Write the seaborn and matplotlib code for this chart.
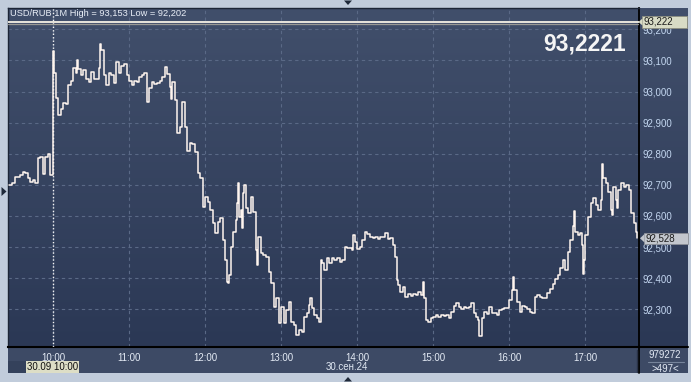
import numpy as np
import pandas as pd
import matplotlib
matplotlib.use("Agg")
import matplotlib.pyplot as plt
import seaborn as sns
from matplotlib.colors import LinearSegmentedColormap
from matplotlib.patches import Rectangle, Polygon

# ---------------- data (minutes relative to 10:00, USD/RUB 1M) ----------------
minutes = [
    -35, -32, -30, -28, -26, -24, -22, -20, -18, -16, -14, -12, -10, -8, -6, -4, -2,
    0, 1, 2, 4, 6, 8, 10, 12, 14, 16, 18, 19, 20, 22, 24, 26, 28, 30, 32, 34, 36, 37, 38,
    40, 42, 44, 46, 48, 50, 52, 54, 56, 58, 60, 62, 64, 66, 68, 70, 72, 74, 76, 78,
    80, 82, 84, 86, 88, 90, 92, 93, 94, 96, 98, 100, 102, 104, 106, 108, 110, 112, 114, 116, 118,
    120, 122, 124, 126, 128, 130, 132, 134, 136, 137, 138, 139, 140, 142, 144, 145, 146, 147, 148, 149,
    150, 151, 152, 154, 156, 158, 160, 161, 162, 164, 166, 168, 170, 172, 174, 176, 178,
    180, 182, 184, 186, 188, 190, 192, 194, 196, 198, 200, 202, 203, 204, 206, 208, 210, 211, 212,
    214, 216, 218, 220, 222, 224, 226, 228, 230, 232, 234, 236, 237, 238,
    240, 242, 244, 246, 248, 250, 252, 254, 256, 258, 260, 262, 264, 266, 268, 270, 271, 272,
    274, 276, 278, 280, 282, 284, 286, 288, 290, 292, 293, 294, 296, 298,
    300, 302, 304, 306, 308, 310, 312, 314, 316, 318, 320, 322, 324, 326, 328, 330, 332, 334, 335, 336, 338,
    340, 342, 344, 346, 348, 350, 352, 354, 356, 358, 360, 362, 363, 364, 366, 368, 370, 372, 374, 376, 378,
    380, 382, 384, 386, 388, 390, 392, 394, 396, 398, 400, 402, 404, 406, 408, 410, 411, 412, 414, 416, 417, 418, 419,
    420, 422, 424, 426, 428, 430, 432, 433, 434, 436, 438, 440, 441, 442, 444, 445, 446, 448, 450, 452, 454, 456, 458,
    460, 461,
]
prices = [
    92.700, 92.705, 92.726, 92.726, 92.732, 92.742, 92.737, 92.721, 92.710, 92.716, 92.705, 92.785, 92.790, 92.735, 92.790, 92.800, 92.730,
    93.130, 93.060, 92.978, 92.925, 92.943, 92.962, 92.960, 93.021, 93.034, 93.075, 93.059, 93.101, 93.071, 93.053, 93.069, 93.039, 93.029, 93.064, 93.039, 93.039, 93.075, 93.153, 93.134,
    93.053, 93.021, 93.059, 93.053, 93.026, 93.096, 93.061, 93.082, 93.089, 93.053, 93.035, 93.021, 93.035, 93.032, 93.046, 93.053, 93.059, 92.967, 93.010, 93.032,
    93.024, 93.026, 93.035, 93.046, 93.078, 93.056, 93.016, 92.975, 93.032, 92.973, 92.866, 92.887, 92.967, 92.887, 92.810, 92.833, 92.831, 92.807, 92.737, 92.721, 92.630,
    92.662, 92.646, 92.620, 92.576, 92.544, 92.582, 92.592, 92.523, 92.458, 92.389, 92.383, 92.410, 92.501, 92.549, 92.587, 92.641, 92.705, 92.598, 92.619, 92.560,
    92.673, 92.700, 92.624, 92.608, 92.662, 92.614, 92.490, 92.442, 92.533, 92.480, 92.474, 92.469, 92.421, 92.383, 92.308, 92.335, 92.255,
    92.308, 92.255, 92.298, 92.324, 92.260, 92.249, 92.217, 92.233, 92.228, 92.276, 92.287, 92.314, 92.335, 92.303, 92.281, 92.271, 92.260, 92.458, 92.448,
    92.426, 92.464, 92.448, 92.464, 92.458, 92.464, 92.453, 92.458, 92.501, 92.496, 92.498, 92.490, 92.539, 92.517,
    92.493, 92.501, 92.523, 92.549, 92.542, 92.531, 92.528, 92.531, 92.525, 92.531, 92.531, 92.544, 92.525, 92.528, 92.507, 92.469, 92.394, 92.378,
    92.356, 92.373, 92.340, 92.349, 92.343, 92.349, 92.346, 92.356, 92.346, 92.389, 92.335, 92.265, 92.260, 92.271,
    92.276, 92.281, 92.276, 92.281, 92.279, 92.281, 92.271, 92.292, 92.310, 92.319, 92.306, 92.300, 92.308, 92.303, 92.308, 92.319, 92.287, 92.276, 92.265, 92.214, 92.271,
    92.292, 92.285, 92.308, 92.289, 92.287, 92.281, 92.297, 92.300, 92.303, 92.303, 92.330, 92.362, 92.405, 92.362, 92.324, 92.292, 92.310, 92.306, 92.300, 92.292, 92.289,
    92.340, 92.346, 92.340, 92.335, 92.335, 92.351, 92.364, 92.381, 92.396, 92.410, 92.432, 92.458, 92.426, 92.485, 92.523, 92.566, 92.617, 92.549, 92.539, 92.544, 92.507, 92.413, 92.458,
    92.539, 92.598, 92.641, 92.657, 92.635, 92.619, 92.651, 92.767, 92.721, 92.705, 92.678, 92.619, 92.603, 92.694, 92.651, 92.624, 92.683, 92.705, 92.694, 92.699, 92.683, 92.608, 92.576,
    92.549, 92.528,
]
hour_ticks = [0, 60, 120, 180, 240, 300, 360, 420]
hour_labels = ["10:00", "11:00", "12:00", "13:00", "14:00", "15:00", "16:00", "17:00"]
price_ticks = [92.3, 92.4, 92.5, 92.6, 92.7, 92.8, 92.9, 93.0, 93.1, 93.2]
price_labels = ["92,300", "92,400", "92,500", "92,600", "92,700", "92,800", "92,900", "93,000", "93,100", "93,200"]
title_text = "USD/RUB 1M High = 93,153 Low = 92,202"
level_value = 93.222
level_label = "93,222"
last_label = "92,528"
big_value = "93,2221"
date_label = "30.сен.24"
cursor_label = "30.09 10:00"
volume_label = "979272"
count_label = ">497<"

# ---------------- figure ----------------
W, H = 691, 382
sns.set_theme(style="dark")
plt.rcParams["font.family"] = ["Liberation Sans", "DejaVu Sans"]

fig = plt.figure(figsize=(W / 100, H / 100), dpi=100, facecolor="#c1ccdb")


def fx(px):
    return px / W


def fy(py):
    return 1 - py / H


# gradient panel behind plot + right axis
bg = fig.add_axes([fx(8), fy(347), fx(688) - fx(8), fy(8) - fy(347)], zorder=-2)
cmap = LinearSegmentedColormap.from_list("bgc", ["#2b3855", "#414f6b"])
grad = np.linspace(0, 1, 256).reshape(-1, 1)
bg.imshow(grad, aspect="auto", cmap=cmap, origin="lower", extent=[0, 1, 0, 1])
bg.set_axis_off()

# bottom band
fig.patches.append(Rectangle((fx(8), fy(373)), fx(688) - fx(8), fy(347) - fy(373),
                             transform=fig.transFigure, facecolor="#3d4a65", edgecolor="none", zorder=-1))
fig.patches.append(Rectangle((fx(8), fy(373)), fx(26) - fx(8), fy(361) - fy(373),
                             transform=fig.transFigure, facecolor="#34415b", edgecolor="none", zorder=-1))

ax = fig.add_axes([fx(8), fy(347), fx(639) - fx(8), fy(8) - fy(347)])
ax.set_facecolor("none")

df = pd.DataFrame({"minute": minutes, "price": prices})
sns.lineplot(data=df, x="minute", y="price", ax=ax, estimator=None, sort=False,
             drawstyle="steps-post", color="#fff5ef", linewidth=1.1, legend=False, zorder=4)

ax.set_xlim(-35.5, 462.2)
ax.set_ylim(92.1785, 93.2685)
ax.set_xlabel("")
ax.set_ylabel("")
ax.set_xticks(hour_ticks)
ax.set_xticklabels(hour_labels)
ax.set_yticks(price_ticks)
ax.set_yticklabels(price_labels)
ax.yaxis.tick_right()
ax.tick_params(axis="y", length=0, pad=2.5, labelcolor="#c3d6f0", labelsize=7)
ax.tick_params(axis="x", length=0, pad=4, labelcolor="#e4ebf5", labelsize=7)
ax.grid(True, color="#5a6986", linestyle=(0, (3, 3)), linewidth=0.8)

# cursor line at 10:00
ax.axvline(0, color="#f4f4f4", linestyle=(0, (1, 1.5)), linewidth=1.0, zorder=3)

# high-level line
ax.axhline(level_value + 0.0012, color="#f6f1e6", linewidth=1.3, zorder=5)
ax.axhline(level_value - 0.0040, color="#9a9a96", linewidth=0.9, zorder=5)

for side in ["left", "top"]:
    ax.spines[side].set_color("#1c2536")
    ax.spines[side].set_linewidth(1.0)
ax.spines["bottom"].set_color("#000000")
ax.spines["bottom"].set_linewidth(1.5)
ax.spines["right"].set_color("#000000")
ax.spines["right"].set_linewidth(1.3)

# extended black lines into right panel / bottom band
fig.lines.append(plt.Line2D([fx(639), fx(688)], [fy(347), fy(347)], transform=fig.transFigure,
                            color="#000000", linewidth=1.5))
fig.lines.append(plt.Line2D([fx(639), fx(639)], [fy(347), fy(373)], transform=fig.transFigure,
                            color="#000000", linewidth=1.3))
fig.lines.append(plt.Line2D([fx(636.7), fx(636.7)], [fy(350), fy(372)], transform=fig.transFigure,
                            color="#2a3348", linewidth=1.0))

# header text
fig.text(fx(10), fy(13.5), title_text, color="#e9eef7", fontsize=6.7, va="center", ha="left")

# big value
fig.text(fx(626), fy(44), big_value, color="#f5f5f5", fontsize=16.5, fontweight="bold",
         va="center", ha="right")

# level label box (93,222)
fig.patches.append(Rectangle((fx(642), fy(28)), fx(687) - fx(642), fy(16) - fy(28),
                             transform=fig.transFigure, facecolor="#d8dbc5", edgecolor="#8d8f80",
                             linewidth=0.6, zorder=6))
fig.patches.append(Polygon([[fx(638.5), fy(22)], [fx(642.5), fy(18.5)], [fx(642.5), fy(25.5)]],
                           closed=True, transform=fig.transFigure, facecolor="#d8dbc5",
                           edgecolor="none", zorder=6))
fig.text(fx(644), fy(22), level_label, color="#1b1b1b", fontsize=7, va="center", ha="left", zorder=7)

# last price label box (92,528)
fig.patches.append(Rectangle((fx(644), fy(244)), fx(688) - fx(644), fy(232.5) - fy(244),
                             transform=fig.transFigure, facecolor="#c2c6cd", edgecolor="#8b8f97",
                             linewidth=0.6, zorder=6))
fig.patches.append(Polygon([[fx(640), fy(238.3)], [fx(644.5), fy(234)], [fx(644.5), fy(242.5)]],
                           closed=True, transform=fig.transFigure, facecolor="#c2c6cd",
                           edgecolor="none", zorder=6))
fig.text(fx(645), fy(238.3), last_label, color="#1b1b1b", fontsize=7, va="center", ha="left", zorder=7)

# bottom labels
fig.patches.append(Rectangle((fx(26), fy(373)), fx(79) - fx(26), fy(361) - fy(373),
                             transform=fig.transFigure, facecolor="#dddec6", edgecolor="none", zorder=6))
fig.text(fx(52.5), fy(367.2), cursor_label, color="#111111", fontsize=7, va="center", ha="center", zorder=7)
fig.text(fx(347), fy(367.5), date_label, color="#dfe7f2", fontsize=7, va="center", ha="center")
fig.text(fx(665), fy(355), volume_label, color="#e2e9f4", fontsize=7, va="center", ha="center")
fig.lines.append(plt.Line2D([fx(648), fx(684)], [fy(361.5), fy(361.5)], transform=fig.transFigure,
                            color="#76849b", linewidth=0.8))
fig.text(fx(665), fy(368.5), count_label, color="#e2e9f4", fontsize=7, va="center", ha="center")

# small frame triangles
tri_col = "#1f2939"
fig.patches.append(Polygon([[fx(344), fy(0.5)], [fx(352), fy(0.5)], [fx(348), fy(5)]], closed=True,
                           transform=fig.transFigure, facecolor=tri_col, edgecolor="none"))
fig.patches.append(Polygon([[fx(344), fy(381.5)], [fx(352), fy(381.5)], [fx(348), fy(377)]], closed=True,
                           transform=fig.transFigure, facecolor=tri_col, edgecolor="none"))
fig.patches.append(Polygon([[fx(1.5), fy(187)], [fx(1.5), fy(196)], [fx(6.5), fy(191.5)]], closed=True,
                           transform=fig.transFigure, facecolor=tri_col, edgecolor="none"))

fig.savefig("out.png", dpi=100, facecolor=fig.get_facecolor())
